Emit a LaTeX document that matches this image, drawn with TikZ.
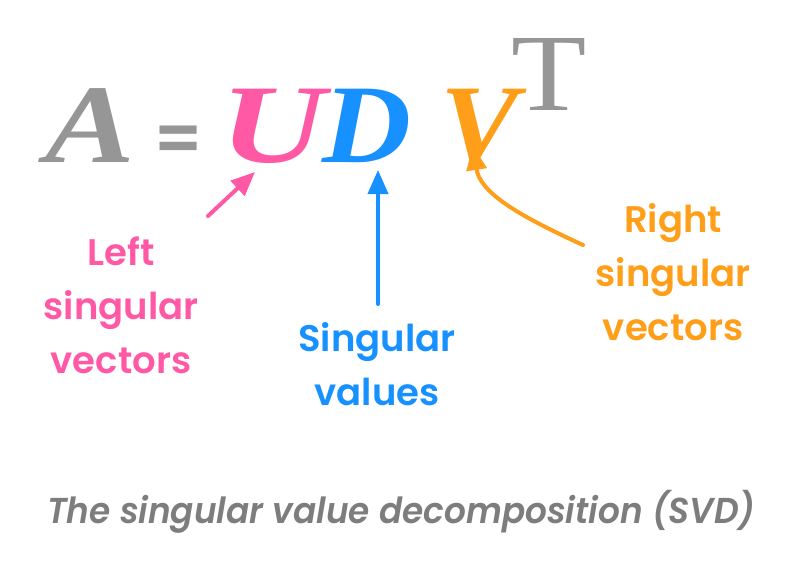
\documentclass[tikz,border=0pt]{standalone}
\usepackage{fontspec}
\usetikzlibrary{arrows.meta}
\setmainfont{Liberation Serif}
\newfontfamily\labfont{Poppins}[UprightFont=* SemiBold, ItalicFont=* Medium Italic]
\newfontfamily\capfont{Poppins}[UprightFont=* SemiBold Italic]
\definecolor{cpink}{RGB}{255,89,166}
\definecolor{cblue}{RGB}{22,145,255}
\definecolor{corange}{RGB}{255,158,24}
\definecolor{cgray}{RGB}{150,150,150}
\definecolor{ccap}{RGB}{125,125,125}
\newcommand\widen[2]{\scalebox{#1}[1]{#2}}
\tikzset{
  bigletter/.style={anchor=base west, inner sep=0pt, font=\fontsize{112}{112}\selectfont\bfseries\itshape},
  label/.style={anchor=base, inner sep=0pt, align=center, font=\labfont\fontsize{37}{54}\selectfont},
  pointer/.style={line width=4pt, line cap=round, -{Triangle[length=24pt,width=20pt]}}
}
\begin{document}
\begin{tikzpicture}[x=1pt,y=-1pt]
\useasboundingbox (0,0) rectangle (786,562);
\fill[white] (0,0) rectangle (786,562);
% equation
\node[bigletter, text=cgray] (A) at (45,162) {\widen{1.2}{A}};
\node[anchor=base west, inner sep=0pt, text=cgray, font=\labfont\fontsize{68}{68}\selectfont] (eq) at (153,162) {=};
\node[bigletter, text=cpink] (U) at (220,162) {\widen{1.3}{U}};
\node[bigletter, text=cblue] (D) at (322,162) {\widen{1.1}{D}};
\node[bigletter, text=corange] (V) at (440,162) {\widen{1.05}{V}};
\node[anchor=base west, inner sep=0pt, text=cgray, font=\fontsize{110}{110}\selectfont] (T) at (511,110) {\widen{1.12}{T}};
% labels (anchor = baseline of last line)
\node[label, text=cpink] (left) at (121,373) {Left\\singular\\vectors};
\node[label, text=cblue] (sing) at (377,405) {Singular\\values};
\node[label, text=corange] (right) at (673,340) {Right\\singular\\vectors};
% arrow ends
\coordinate (p0) at (208,216);
\coordinate (p1) at (255,172);
\coordinate (b0) at (378,304);
\coordinate (b1) at (378,170);
\coordinate (o0) at (583,245);
\coordinate (o1) at (473,146);
\draw[pointer, cpink] (p0) -- (p1);
\draw[pointer, cblue] (b0) -- (b1);
\draw[pointer, corange] (o0) .. controls (515,214) and (480,192) .. (o1);
% caption
\node[anchor=base west, inner sep=0pt, text=ccap, font=\capfont\fontsize{36}{36}\selectfont] (cap) at (47,523) {\widen{0.953}{The singular value decomposition (SVD)}};
\end{tikzpicture}
\end{document}
